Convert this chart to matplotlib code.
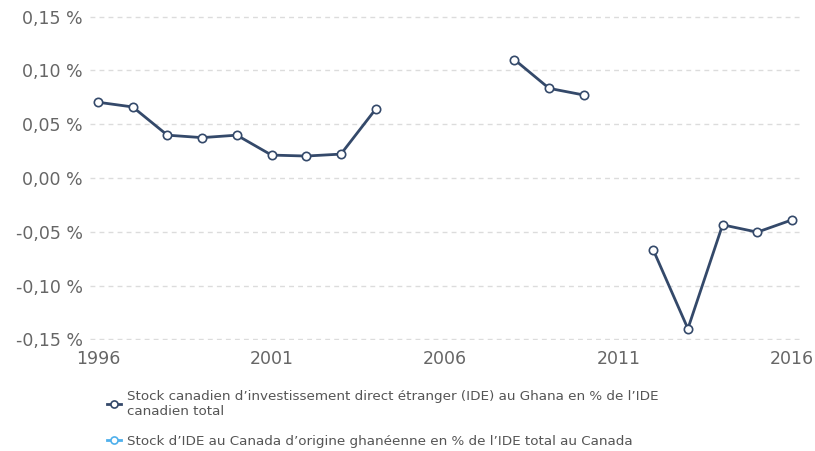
import matplotlib
matplotlib.use("Agg")
import matplotlib.pyplot as plt
import numpy as np

years = list(range(1996, 2017))
# Canadian FDI stock in Ghana, % of total Canadian FDI (None = no data)
cdn_in_ghana = [0.0704, 0.0660, 0.0398, 0.0375, 0.0398, 0.0213, 0.0204, 0.0222, 0.0639,
                None, None, None, 0.1100, 0.0833, 0.0771, None,
                -0.0667, -0.1400, -0.0435, -0.0503, -0.0389]
# Ghanaian FDI stock in Canada: no values shown
ghana_in_cdn = [None] * len(years)

labels = [
    "Stock canadien d\u2019investissement direct étranger (IDE) au Ghana en % de l\u2019IDE\ncanadien total",
    "Stock d\u2019IDE au Canada d\u2019origine ghanéenne en % de l\u2019IDE total au Canada",
]
yticks = [-0.15, -0.10, -0.05, 0.0, 0.05, 0.10, 0.15]
xticks = [1996, 2001, 2006, 2011, 2016]

DARK = "#34496a"
LIGHT = "#4fb0ec"
GREY = "#666666"


def to_arr(vals):
    return np.array([np.nan if v is None else v for v in vals], dtype=float)


fig = plt.figure(figsize=(8.15, 4.51), dpi=100)
ax = fig.add_axes([90 / 815, 1 - 340 / 451, 710 / 815, 324 / 451])

ax.plot(years, to_arr(cdn_in_ghana), color=DARK, lw=2, marker="o", ms=6,
        mfc="white", mec=DARK, mew=1.2, clip_on=False, label=labels[0], zorder=3)
ax.plot(years, to_arr(ghana_in_cdn), color=LIGHT, lw=2, marker="o", ms=6,
        mfc="white", mec=LIGHT, mew=1.2, label=labels[1])

ax.set_xlim(1996 - 8 / 34.7, 2016 + 8 / 34.7)
ax.set_ylim(-0.1505, 0.1505)
ax.set_yticks(yticks)
ax.set_yticklabels([f"{v:.2f} %".replace(".", ",").replace("-0,00", "0,00") for v in yticks])
ax.set_xticks(xticks)
ax.set_xticklabels([str(x) for x in xticks])
ax.tick_params(axis="both", length=0, labelsize=12.5, labelcolor=GREY)
ax.tick_params(axis="y", pad=5)
ax.tick_params(axis="x", pad=7)

ax.grid(axis="y", color="#dcdcdc", ls=(0, (3.5, 3)), lw=1)
for s in ax.spines.values():
    s.set_visible(False)

leg = fig.legend(loc="upper left", bbox_to_anchor=(95 / 815, 1 - 378 / 451),
                 frameon=False, fontsize=9.7, handlelength=1.0, handletextpad=0.45,
                 labelspacing=1.25, markerscale=0.85)
for t in leg.get_texts():
    t.set_color("#555555")

fig.savefig("out.png", dpi=100)
